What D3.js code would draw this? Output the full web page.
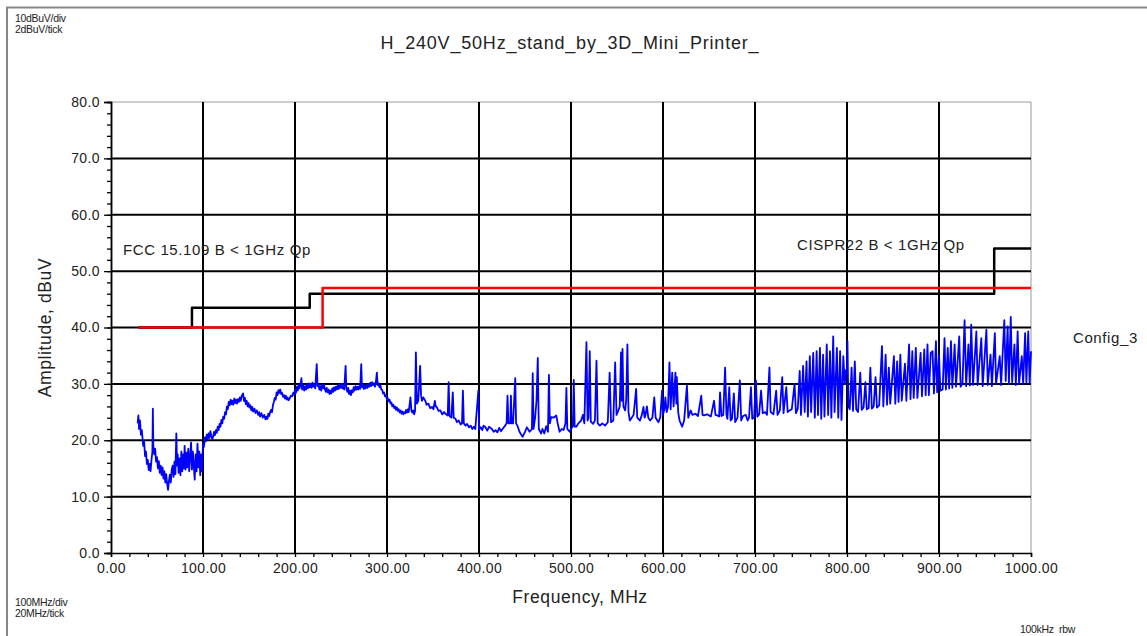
<!DOCTYPE html>
<html>
<head>
<meta charset="utf-8">
<script src="https://cdn.jsdelivr.net/npm/d3@7/dist/d3.min.js"></script>
<style>
    body { margin: 0; background: #fff; }
    svg { display: block; font-family: 'Liberation Sans', Arial, sans-serif; }
    .corner-text { font-size: 10.5px; fill: #222; letter-spacing: -0.3px; white-space: pre; }
    .axis-title { font-size: 17.5px; fill: #222; letter-spacing: 0.6px; }
    .limit-label { font-size: 15px; fill: #222; letter-spacing: 0.6px; }
</style>
</head>
<body>
<div class="emi-chart"></div>
<script>
// ---- data ----
const title = 'H_240V_50Hz_stand_by_3D_Mini_Printer_';
const yTicks = [0, 10, 20, 30, 40, 50, 60, 70, 80];
const xTicks = [0, 100, 200, 300, 400, 500, 600, 700, 800, 900, 1000];

// FCC 15.109 class B (black) and CISPR22 class B (red) quasi-peak limits, [MHz, dBuV]
const fccLimit = [[30, 40], [88, 40], [88, 43.5], [216, 43.5], [216, 46], [960, 46], [960, 54], [1000, 54]];
const cisprLimit = [[30, 40], [230, 40], [230, 47], [1000, 47]];

// measured trace Config_3, [MHz, dBuV]
const trace = [
    [29, 23], [29.8, 24.4], [30.5, 22], [31.5, 23.5], [32.5, 21], [33.5, 21.8], [35, 19], [36, 19.8], [37, 17.2], [38, 18],
    [39, 15.8], [40, 16.5], [41, 14.7], [42, 15.8], [43, 14.5], [44, 16.5], [45, 18], [45.5, 25.6], [46, 19], [47, 17.5],
    [48, 18.5], [49, 16.2], [50, 17], [51, 15], [52, 16.3], [53, 14.2], [54, 15.5], [55, 13.8], [56, 15.2], [57, 13.2],
    [58, 14.5], [59, 12.5], [60, 14], [61, 12.3], [62, 11.2], [63, 12.8], [64, 13.9], [65, 12.5], [66, 14.8], [67, 15.5],
    [68, 13.5], [69, 16.2], [70, 14], [71, 21.2], [71.8, 15.5], [72.5, 17.5], [73.5, 14.2], [74.5, 16.8], [75.5, 13.8], [76.5, 18],
    [77.5, 14.5], [78.5, 17.5], [79.5, 15], [80, 19], [81, 14.8], [82, 17.8], [83, 15.2], [84, 18.5], [85, 14.5], [86, 17],
    [87, 19.6], [88, 14.8], [89, 18], [90, 15.5], [91, 13], [92, 17.5], [93, 14.5], [94, 19.4], [95, 15.2], [96, 18],
    [97, 13.8], [98, 17.5], [99, 14.5], [100, 19.4],
    [101, 18.8], [102, 20.5], [103, 19.8], [104, 21], [105, 20.2], [106, 21.2], [107, 20.4], [108, 21.6], [109, 20.8], [110, 20.2],
    [111, 20.6], [112, 21.5], [113, 20.9], [114, 21.8], [115, 21.3], [116, 22.4], [117, 21.8], [118, 22.9], [119, 22.4], [120, 23.6],
    [121, 23], [122, 24.2], [123, 23.8], [124, 25], [125, 24.6], [126, 26], [127, 25.5], [128, 26.8], [129, 26.2], [130, 27.2],
    [131, 26.4], [132, 27], [133, 26.3], [134, 27.4], [135, 26.6], [136, 27.2], [137, 26.5], [138, 27.3], [139, 26.8], [140, 27.6],
    [141, 27], [142, 27.8], [143.6, 28.3], [144.5, 27], [145.5, 27.5], [146.5, 26.4], [147.5, 27], [148.5, 26], [149.5, 26.6], [150.5, 25.8],
    [151.5, 26.2], [152.5, 25.3], [153.5, 25.9], [154.5, 25.1], [156, 25.6], [157, 24.8], [158.5, 25.3], [160, 24.5], [161, 25], [162, 24.2],
    [163.5, 24.8], [165, 24], [166.5, 24.5], [168, 23.7], [169, 24.2], [170, 23.8], [171, 24.7], [172, 24.3], [173, 25], [174, 25.4],
    [175, 25], [176, 26.2], [177, 26.8], [178, 27.5], [179, 27.2], [180, 28.5], [181, 28], [182, 28.9], [183, 28.4], [184, 29],
    [185, 28.2], [186, 28.4], [187, 27.7], [188, 28], [189, 27.4], [190, 27.9], [191, 27.2], [192, 27.6], [193, 27.1], [194.5, 27.5],
    [195.5, 27.9], [197, 27.8], [198, 28.4], [199, 28.1], [200, 29], [201, 28.4], [202, 29.5], [203, 28.8], [204, 29.8], [205, 29.2],
    [206, 30], [207, 31], [207.7, 29], [209, 29.7], [210, 28.8], [211, 29.6], [212, 29], [213, 29.9], [214, 29.2], [215, 30.1],
    [216, 29.4], [217, 30], [218, 29.3], [219, 30.2], [220, 29.5], [221, 29.8], [222, 29.2], [223.6, 33.5], [224.5, 29.6], [225.5, 29.9],
    [226.5, 29], [227.5, 29.6], [228.5, 28.8], [229.5, 29.8], [230.5, 29.2], [231.5, 29.9], [232.5, 29], [233.5, 28.6], [234.5, 29.3], [235.5, 28.5],
    [236.5, 29], [237.5, 28.2], [238.5, 28.8], [239.5, 28.3], [240.5, 29.2], [241.5, 28.6], [242.5, 29.4], [243.5, 28.8], [244.5, 29.5], [245.5, 29],
    [246.5, 29.7], [247.5, 29.1], [248.5, 29.9], [249.5, 29.3], [250.5, 30], [251.5, 29.2], [252.5, 29.6], [253.5, 29], [255, 33.2], [255.8, 29.2],
    [256.8, 28.6], [257.8, 29.3], [258.8, 28.2], [259.8, 28.8], [260.8, 28], [261.8, 28.9], [262.8, 28.5], [263.8, 29.4], [264.8, 28.8], [265.8, 29.6],
    [266.8, 29], [267.8, 29.5], [268.8, 29], [269.8, 29.6], [270.8, 29.1], [272, 33.5], [272.8, 29.4], [273.8, 29.8], [274.8, 29.1], [275.8, 29.7],
    [276.8, 29.2], [277.8, 29.8], [278.8, 29.3], [279.8, 30], [280.8, 29.5], [281.8, 30.2], [282.8, 29.6], [283.8, 30.3], [284.8, 29.8], [285.8, 30.1],
    [286.8, 29.5], [287.8, 30.2], [289, 32], [289.8, 29.8], [290.8, 30.1], [291.8, 29.4], [292.8, 29.7], [293.8, 29], [294.8, 28.9], [295.8, 28.3],
    [296.8, 28.5], [297.8, 27.8], [298.8, 28], [299.8, 27.3], [300.8, 27.5], [301.8, 26.9], [302.8, 27.2], [303.8, 26.5], [304.8, 26.7], [305.8, 26],
    [306.8, 26.3], [307.8, 25.7], [308.8, 26], [309.8, 25.4], [310.8, 25.8], [311.8, 25.2], [312.8, 25.5], [313.8, 24.9], [314.8, 25.3], [315.8, 24.7],
    [316.8, 25.1], [317.8, 24.6], [318.8, 25], [319.8, 24.8], [320.8, 25.4], [321.8, 24.9], [322.8, 25.5], [323.6, 25], [325.5, 27.6], [326.5, 25.3],
    [327.5, 24.9], [328.5, 25.3], [329.5, 24.6], [330.5, 25.2], [331.4, 35.6],
    [332.5, 26.5], [334, 27], [336, 33.2], [337, 28], [338, 27], [339.5, 27.6], [341.6, 27], [343, 26.3], [345, 26.5], [347, 25.7],
    [349, 25.9], [350.5, 25.5], [352, 27], [353, 26], [354, 25.9], [356, 25.2], [358, 25.3], [360, 24.6], [362, 25], [363.5, 24.7],
    [366, 24.4], [367, 30.3], [368, 24.3], [370, 24], [371.5, 28.5], [372.5, 24], [374.5, 23.8], [376, 23.2], [378, 23.5], [380, 22.8],
    [381.5, 23], [382.5, 28.8], [383.5, 23], [385.4, 22.6], [387, 22.9], [389, 22.3], [391, 22.6], [392.7, 22], [394.5, 22.4], [396, 22],
    [399.3, 28.8], [400.3, 21.9], [402, 22.3], [403.6, 21.8], [405, 22.6], [407, 22.3], [409, 21.7], [411, 22.4], [414, 22], [416, 21.5],
    [418, 21.8], [420, 21.4], [422, 22.2], [424, 21.6], [425.5, 22], [428, 22.5], [430, 23], [431, 27.9], [432, 23], [434, 23],
    [434.7, 27.9], [435.5, 23], [437, 23], [439.4, 31], [440.3, 23], [442, 22.5], [444, 21.5], [447.4, 20.6], [450, 21.5], [452, 22.3],
    [455, 21.5], [457.5, 22], [458.4, 31.9], [459.3, 22], [461, 24], [462.5, 27], [463.9, 34.6], [465, 22], [467.5, 21.2], [469, 22],
    [471, 21.2], [473, 22.5], [475, 21.5], [476, 31.6], [477, 23], [478.5, 24.1], [481, 24], [484, 24.4], [485.5, 23], [487.6, 21.5],
    [490, 22], [492, 21.8], [494, 23], [495, 29.3], [496, 22], [498.5, 21.5], [500, 22], [502, 22.5], [503, 30.7], [504, 22.4],
    [505.8, 22.4], [508, 23], [511, 23.5], [513, 24.5], [514.5, 23], [516.8, 37.4], [518, 23.5], [519, 24], [520.4, 35.8], [521.5, 23.3],
    [524, 22.9], [526, 23.5], [527.7, 34.1], [529, 23], [531.4, 22.6], [534, 23], [537, 22.6], [540, 23.2], [542, 32], [543.5, 23.2],
    [546, 23.5], [548, 33.8], [549.5, 24.5], [551.5, 25.3], [553, 26], [554.4, 35.6], [555.2, 27], [556, 36.2], [557, 26], [558.8, 25.3],
    [560, 27], [561.3, 37], [562.5, 25], [564, 23.5], [566, 24], [568, 24.5], [569, 26], [570.8, 29.1], [572, 24], [575, 23.5],
    [577, 24.5], [578.8, 25.9], [580, 24], [581, 24.5], [582.5, 26], [584, 24], [586, 23.5], [588.5, 24], [590.5, 27.6], [592, 24],
    [595, 23.2], [597, 24], [599, 28.8], [600, 24.5], [601.5, 25.5], [602.6, 27.6], [604, 25], [605.5, 26], [607, 33.8], [608.3, 25.5],
    [610, 32], [611.5, 26], [613.5, 32], [614.5, 26.5], [615, 31.2], [616.5, 25], [618, 23.5], [620.8, 22.4], [623, 23.5], [626, 29.7],
    [627.5, 24], [630, 25.3], [632, 24.5], [635.4, 24.7], [638, 24.3], [641.6, 27.9], [643, 24.5], [644.5, 24.4], [648, 24.6], [652, 24.2],
    [655.5, 27], [657, 24.5], [659, 24.4], [661, 24.2], [662, 28.5], [663.5, 24.3], [665.5, 24.5], [667.5, 32.9], [669, 24.5], [670, 23.8],
    [672, 29.4], [673.5, 23.5], [675, 23.8], [677, 28.3], [678.5, 23.2], [681, 24], [683.5, 30.6], [685, 23.5], [687, 24.3], [690, 24.5],
    [692, 23.5], [693.5, 24], [695.6, 29.4], [697, 23.8], [699, 24], [701, 30.6], [702.5, 24.2], [704.5, 24.6], [706.6, 28.8], [708.4, 24.8],
    [711, 25], [713, 24.5], [715.7, 32.9], [717, 25], [720, 24.6], [723, 28.8], [724.5, 24.5], [727, 25.3], [729.6, 31.2], [731, 24.8],
    [734, 29.4], [735.5, 25], [737.7, 25.3], [740, 25.5], [743, 30], [744.5, 24.8], [746.5, 25.6], [748.6, 32.3], [750, 24.5], [752.3, 33.2],
    [754, 25], [756, 34], [757.5, 24.2], [759.6, 34.9], [761, 25], [763.3, 35.5], [765, 24], [767, 35.8], [768.5, 24.5], [770.6, 36.4],
    [772, 23.8], [774, 35.2], [775.5, 24.2], [778, 37], [779.5, 24.5], [781.5, 35.8], [783, 24], [785, 38.4], [786.5, 25], [789, 36.4],
    [790.5, 24], [792.5, 35.8], [794, 23.6], [796, 34.9], [797.5, 30], [799, 32.5], [800, 32.5], [800.5, 37.6], [801.5, 26], [803, 25.5],
    [805, 32.9], [806.5, 25.2], [808.5, 34], [810, 25.5], [812, 25], [814.4, 32], [816, 25.4], [818, 25.8], [820, 30.3], [821.5, 25.5],
    [823.5, 25.7], [825.4, 32.9], [827, 25.6], [829, 26], [831, 31.2], [832.5, 25.8], [835, 26.2], [838, 36.7], [839.5, 26], [842, 35.2],
    [843.5, 26.3], [845.5, 32.9], [847, 26.5], [851, 34.9], [852.5, 26.5], [854.5, 34], [856, 26.8], [858, 35.2], [859.5, 27], [863, 33.6],
    [864.5, 27], [867.5, 37], [869, 27.3], [871, 35.8], [872.5, 27.5], [874.8, 36.4], [876.5, 27.5], [880, 35.5], [881.5, 27.8], [884, 36.1],
    [885.5, 28], [887.5, 37], [889, 28], [891, 35.5], [893, 35.8], [894.5, 28.3], [896.7, 37.6], [898, 28.5], [900, 35.2], [901.5, 28.8],
    [904, 29], [906, 38.1], [907.5, 29], [909.5, 36.4], [911, 29.2], [913, 37.6], [914.5, 29.3], [917, 37], [918.5, 29.5], [922, 38.4],
    [923.5, 29.5], [925.5, 30], [927.8, 41.3], [929.5, 29.6], [932, 37], [933.5, 29.7], [935, 40.5], [937, 29.8], [940.6, 39.3], [942, 29.8],
    [946, 38.1], [947.5, 29.6], [951.5, 39.6], [953, 29.8], [956, 35.2], [957.5, 29.6], [960.7, 39], [962, 30], [966, 34.9], [967.5, 29.8],
    [971, 41.3], [972.5, 30.5], [974.6, 40.2], [976, 30], [978, 41.9], [979.5, 30.3], [982, 37], [983.5, 29.8], [985.5, 39.3], [987, 30],
    [990, 34.9], [991.5, 30], [993.6, 39], [995, 30.2], [997, 39.3], [998.5, 30], [1000, 35.8],
];

class EmiChart {
    constructor() {
        this.container = document.querySelector('.emi-chart');
        this.outerWidth = 1147;
        this.outerHeight = 636;
        this.margin = { top: 102, left: 111 };
        this.width = 920;
        this.height = 451;

        this.appendSVG();
        this.scaleX();
        this.scaleY();
        this.addGrid();
        this.addAxes();
        this.addLine(fccLimit, '#000', 2.5);
        this.addLine(cisprLimit, '#ff0000', 2.5);
        this.addLine(trace, '#0000ff', 1.8);
        this.addTexts();
    }

    appendSVG() {
        this.root = d3.select(this.container)
            .append('svg')
            .attr('width', this.outerWidth)
            .attr('height', this.outerHeight);

        // grey frame round the whole window
        this.root.append('path')
            .attr('d', `M7,${this.outerHeight} V7.5 H${this.outerWidth}`)
            .attr('fill', 'none')
            .attr('stroke', '#888')
            .attr('stroke-width', 2);

        this.svg = this.root.append('g')
            .attr('transform', `translate(${this.margin.left}, ${this.margin.top})`);
    }

    scaleX() {
        this.x = d3.scaleLinear().domain([0, 1000]).range([0, this.width]);
    }

    scaleY() {
        this.y = d3.scaleLinear().domain([0, 80]).range([this.height, 0]);
    }

    addGrid() {
        const grid = this.svg.append('g').attr('class', 'grid');
        // outer edges of the plot are thin grey
        grid.append('line')
            .attr('x1', 0).attr('x2', this.width)
            .attr('y1', this.y(80)).attr('y2', this.y(80))
            .attr('stroke', '#999').attr('stroke-width', 1);
        grid.append('line')
            .attr('x1', this.x(1000)).attr('x2', this.x(1000))
            .attr('y1', 0).attr('y2', this.height)
            .attr('stroke', '#999').attr('stroke-width', 1);

        grid.selectAll('.h-grid')
            .data(yTicks.filter((d) => d > 0 && d < 80))
            .enter()
            .append('line')
            .attr('class', 'h-grid')
            .attr('x1', 0).attr('x2', this.width)
            .attr('y1', (d) => this.y(d)).attr('y2', (d) => this.y(d))
            .attr('stroke', '#000').attr('stroke-width', 2);

        grid.selectAll('.v-grid')
            .data(xTicks.filter((d) => d > 0 && d < 1000))
            .enter()
            .append('line')
            .attr('class', 'v-grid')
            .attr('x1', (d) => this.x(d)).attr('x2', (d) => this.x(d))
            .attr('y1', 0).attr('y2', this.height)
            .attr('stroke', '#000').attr('stroke-width', 2);
    }

    addAxes() {
        // minor ticks every 2 dBuV and 20 MHz
        this.svg.append('g')
            .attr('class', 'y-minor')
            .call(d3.axisLeft(this.y).tickValues(d3.range(0, 81, 2)).tickSize(4).tickFormat(''));
        this.svg.append('g')
            .attr('class', 'y-axis')
            .call(d3.axisLeft(this.y).tickValues(yTicks).tickSize(7).tickPadding(4)
                .tickFormat(d3.format('.1f')));

        this.svg.append('g')
            .attr('class', 'x-axis')
            .attr('transform', `translate(0,${this.height})`)
            .call(d3.axisBottom(this.x).tickValues(d3.range(0, 1001, 20)).tickSize(4)
                .tickFormat((d) => (d % 100 === 0 ? d3.format('.2f')(d) : '')).tickPadding(6));

        this.svg.selectAll('.x-axis path, .y-axis path, .y-minor path')
            .attr('stroke', '#000').attr('stroke-width', 1.5);
        this.svg.selectAll('.tick line').attr('stroke', '#000').attr('stroke-width', 1.3);
        this.svg.selectAll('.tick text')
            .attr('fill', '#222')
            .style('font-size', '14px')
            .style('letter-spacing', '0.4px')
            .style('font-family', 'Liberation Sans, Arial, sans-serif');
        this.svg.selectAll('.x-axis .tick line').attr('y1', 0);
    }

    addLine(data, colour, widthPx) {
        const line = d3.line()
            .x((d) => this.x(d[0]))
            .y((d) => this.y(d[1]));

        this.svg.append('path')
            .datum(data)
            .attr('d', line)
            .attr('fill', 'none')
            .attr('stroke', colour)
            .attr('stroke-width', widthPx)
            .attr('stroke-linejoin', 'round');
    }

    addTexts() {
        this.root.append('text')
            .attr('x', 570).attr('y', 49)
            .attr('text-anchor', 'middle')
            .style('font-size', '18px')
            .style('letter-spacing', '0.8px')
            .attr('fill', '#222')
            .text(title);

        this.root.append('text').attr('class', 'corner-text').attr('x', 15).attr('y', 22).text('10dBuV/div');
        this.root.append('text').attr('class', 'corner-text').attr('x', 15).attr('y', 33).text('2dBuV/tick');
        this.root.append('text').attr('class', 'corner-text').attr('x', 15).attr('y', 606).text('100MHz/div');
        this.root.append('text').attr('class', 'corner-text').attr('x', 15).attr('y', 617).text('20MHz/tick');
        this.root.append('text').attr('class', 'corner-text').attr('x', 1020).attr('y', 633).text('100kHz  rbw');

        this.root.append('text')
            .attr('class', 'axis-title')
            .attr('text-anchor', 'middle')
            .attr('transform', `translate(51, ${this.margin.top + this.y(40)}) rotate(-90)`)
            .text('Amplitude, dBuV');

        this.root.append('text')
            .attr('class', 'axis-title')
            .attr('text-anchor', 'middle')
            .attr('x', 580).attr('y', 603)
            .text('Frequency, MHz');

        this.svg.append('text')
            .attr('class', 'limit-label')
            .attr('x', 12).attr('y', this.y(52.8))
            .text('FCC 15.109 B < 1GHz Qp');
        this.svg.append('text')
            .attr('class', 'limit-label')
            .attr('x', 686).attr('y', this.y(53.7))
            .text('CISPR22 B < 1GHz Qp');
        this.root.append('text')
            .attr('class', 'limit-label')
            .attr('x', 1073).attr('y', 343)
            .text('Config_3');
    }
}

new EmiChart();
</script>
</body>
</html>
